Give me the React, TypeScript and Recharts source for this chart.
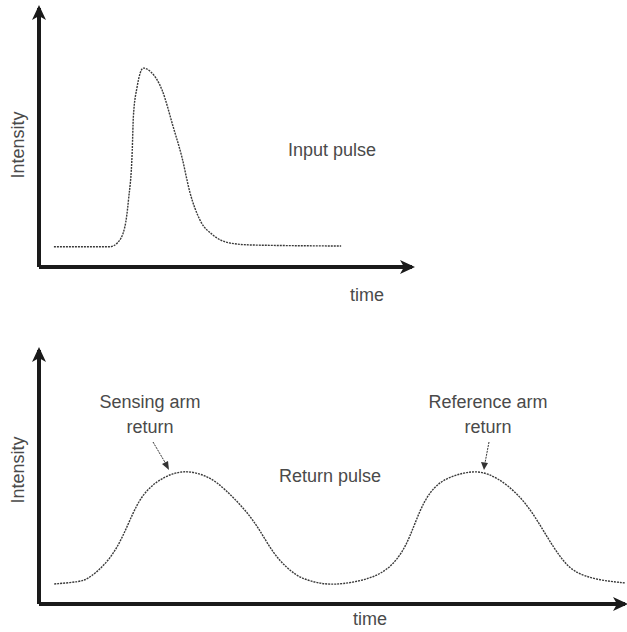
import React from "react";
import { LineChart, Line, XAxis, YAxis, ReferenceDot, ReferenceLine } from "recharts";

// input pulse (top panel) — arbitrary units
const inputTime = [4, 19, 21, 23, 24, 25, 25.3, 26.3, 28, 30, 33, 36, 38.3, 40.5, 43.2, 46.6, 51, 57, 81];
const inputIntensity = [7.8, 7.8, 9.3, 15.4, 26, 45, 58, 69.5, 76.8, 75.3, 68.3, 54, 42.5, 28.6, 18, 12.4, 9.3, 8.5, 8.1];

// return pulse (bottom panel): sensing arm + reference arm
const returnTime = [2.6, 7, 8.7, 12.1, 14.3, 16, 17.7, 20.1, 22.9, 25.3, 28, 30.4, 33.1, 35.5, 37.7, 39.9, 42.3, 44.5, 48, 51.4, 58.2, 61.6, 63.3, 65, 66.7, 68.9, 72.4, 75.3, 78.2, 81.6, 84.3, 86.7, 88.9, 91.1, 95.2, 100];
const returnIntensity = [7.9, 8.7, 10.2, 17.3, 26.4, 35.8, 43.2, 48.4, 51.6, 52.4, 51, 48, 42.1, 36.2, 29.1, 20.1, 14.2, 10.2, 7.9, 7.5, 10.6, 18.5, 26.4, 37, 44.2, 49, 51.8, 52.4, 49.8, 43.7, 35.8, 26.4, 18.5, 12.6, 9.4, 8.3];

const inputData = inputTime.map((t, i) => ({ time: t, intensity: inputIntensity[i] }));
const returnData = returnTime.map((t, i) => ({ time: t, intensity: returnIntensity[i] }));

const AXIS = "#1a1a1a";
const CURVE = "#3a3a3a";
const FONT = "'Liberation Sans', Arial, sans-serif";

const ArrowRight = (props: any) => {
  const { cx, cy } = props;
  return (
    <polygon
      points={`${cx + 3},${cy} ${cx - 12},${cy - 7} ${cx - 8},${cy} ${cx - 12},${cy + 7}`}
      fill={AXIS}
    />
  );
};

const ArrowUp = (props: any) => {
  const { cx, cy } = props;
  return (
    <polygon
      points={`${cx},${cy - 3} ${cx - 7},${cy + 12} ${cx},${cy + 8} ${cx + 7},${cy + 12}`}
      fill={AXIS}
    />
  );
};

function Panel({ data, width, height, margin, curve }: any) {
  return (
    <LineChart width={width} height={height} data={data} margin={margin}>
      <XAxis type="number" dataKey="time" domain={[0, 100]} allowDataOverflow hide />
      <YAxis type="number" domain={[0, 100]} allowDataOverflow hide />
      <ReferenceLine
        segment={[{ x: 0, y: 0 }, { x: 100, y: 0 }]}
        stroke={AXIS}
        strokeWidth={4}
        ifOverflow="visible"
      />
      <ReferenceLine
        segment={[{ x: 0, y: 0 }, { x: 0, y: 100 }]}
        stroke={AXIS}
        strokeWidth={4}
        ifOverflow="visible"
      />
      <Line
        type={curve}
        dataKey="intensity"
        stroke={CURVE}
        strokeWidth={1.4}
        strokeDasharray="2 1"
        dot={false}
        isAnimationActive={false}
      />
      <ReferenceDot x={100} y={0} ifOverflow="visible" shape={ArrowRight} />
      <ReferenceDot x={0} y={100} ifOverflow="visible" shape={ArrowUp} />
    </LineChart>
  );
}

const textStyle: any = { fontFamily: FONT, fontSize: 18, fill: "#4a4a4a" };

export default function App() {
  return (
    <div style={{ position: "absolute", left: 0, top: 0, width: 627, height: 632, background: "#fff" }}>
      <div style={{ position: "absolute", left: 0, top: 0 }}>
        <Panel data={inputData} curve="monotone" width={627} height={300} margin={{ top: 8, right: 215, bottom: 33, left: 39 }} />
      </div>
      <div style={{ position: "absolute", left: 0, top: 330 }}>
        <Panel data={returnData} curve="basis" width={627} height={302} margin={{ top: 20, right: 2, bottom: 28, left: 39 }} />
      </div>
      <svg
        width={627}
        height={632}
        style={{ position: "absolute", left: 0, top: 0, pointerEvents: "none" }}
      >
        {/* top panel labels */}
        <text x={18} y={145} textAnchor="middle" dominantBaseline="central" transform="rotate(-90 18 145)" style={textStyle}>
          Intensity
        </text>
        <text x={332} y={150} textAnchor="middle" dominantBaseline="central" style={textStyle}>
          Input pulse
        </text>
        <text x={367} y={295} textAnchor="middle" dominantBaseline="central" style={textStyle}>
          time
        </text>

        {/* bottom panel labels */}
        <text x={18} y={470} textAnchor="middle" dominantBaseline="central" transform="rotate(-90 18 470)" style={textStyle}>
          Intensity
        </text>
        <text x={150} y={402} textAnchor="middle" dominantBaseline="central" style={textStyle}>
          Sensing arm
        </text>
        <text x={150} y={427} textAnchor="middle" dominantBaseline="central" style={textStyle}>
          return
        </text>
        <text x={488} y={402} textAnchor="middle" dominantBaseline="central" style={textStyle}>
          Reference arm
        </text>
        <text x={488} y={427} textAnchor="middle" dominantBaseline="central" style={textStyle}>
          return
        </text>
        <text x={330} y={476} textAnchor="middle" dominantBaseline="central" style={textStyle}>
          Return pulse
        </text>
        <text x={370} y={619} textAnchor="middle" dominantBaseline="central" style={textStyle}>
          time
        </text>

        {/* annotation arrows */}
        <line x1={153} y1={442} x2={166} y2={464} stroke="#333" strokeWidth={1} strokeDasharray="2 1" />
        <polygon points="169,470 162,464 168,461" fill="#333" />
        <line x1={489} y1={442} x2={485} y2={463} stroke="#333" strokeWidth={1} strokeDasharray="2 1" />
        <polygon points="484,470 481,462 488,463" fill="#333" />
      </svg>
    </div>
  );
}
